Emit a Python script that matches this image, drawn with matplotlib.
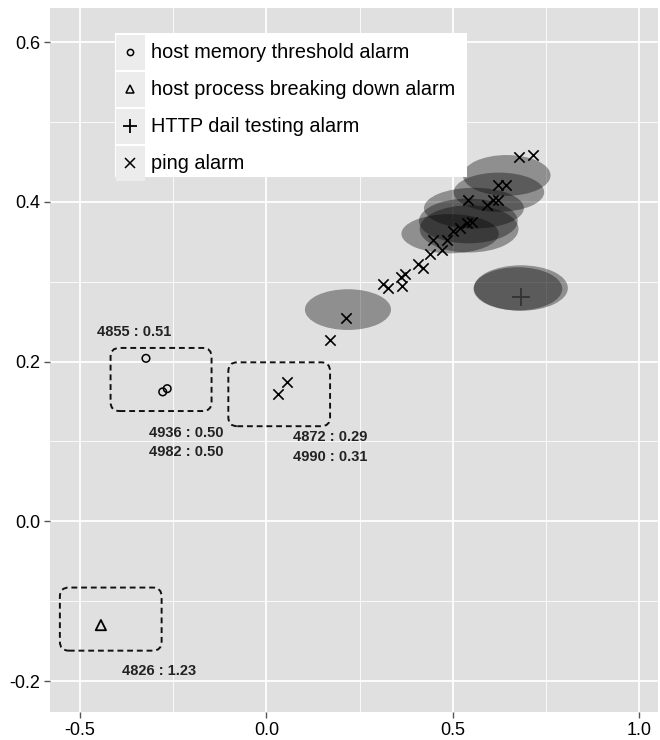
import matplotlib
matplotlib.use("Agg")
import matplotlib.pyplot as plt
from matplotlib.patches import Ellipse, FancyBboxPatch, Rectangle
from matplotlib.lines import Line2D

plt.rcParams["font.family"] = ["Liberation Sans", "DejaVu Sans"]

# ---------------- DATA ----------------
memory_x = [-0.323, -0.278, -0.266]
memory_y = [0.204, 0.162, 0.166]

process_x = [-0.444]
process_y = [-0.130]

http_x = [0.682]
http_y = [0.281]

ping_x = [0.213, 0.171, 0.030, 0.056, 0.314, 0.327, 0.363, 0.360, 0.372,
          0.408, 0.421, 0.439, 0.470, 0.448, 0.484, 0.502, 0.520, 0.538,
          0.551, 0.542, 0.591, 0.609, 0.622, 0.622, 0.643, 0.678, 0.715]
ping_y = [0.255, 0.227, 0.159, 0.174, 0.297, 0.292, 0.294, 0.306, 0.310,
          0.322, 0.317, 0.335, 0.340, 0.352, 0.352, 0.363, 0.367, 0.373,
          0.375, 0.402, 0.396, 0.402, 0.402, 0.421, 0.421, 0.456, 0.459]

# confidence regions: centre x, centre y, width, height
ell_x = [0.219, 0.683, 0.675, 0.645, 0.624, 0.557, 0.542, 0.493, 0.544]
ell_y = [0.265, 0.292, 0.291, 0.433, 0.412, 0.392, 0.376, 0.360, 0.366]
ell_w = [0.231, 0.252, 0.238, 0.235, 0.243, 0.268, 0.265, 0.261, 0.265]
ell_h = [0.051, 0.057, 0.054, 0.051, 0.049, 0.051, 0.056, 0.049, 0.059]

# outlier groups: x0, x1, y0, y1
box_x0 = [-0.418, -0.102, -0.554]
box_x1 = [-0.147, 0.171, -0.281]
box_y0 = [0.138, 0.119, -0.162]
box_y1 = [0.217, 0.199, -0.083]

score_text = ["4855 : 0.51", "4936 : 0.50", "4982 : 0.50",
              "4872 : 0.29", "4990 : 0.31", "4826 : 1.23"]
score_x = [-0.454, -0.315, -0.315, 0.072, 0.072, -0.388]
score_y = [0.237, 0.111, 0.087, 0.105, 0.080, -0.188]

legend_labels = ["host memory threshold alarm",
                 "host process breaking down alarm",
                 "HTTP dail testing alarm",
                 "ping alarm"]

x_ticks = [-0.5, 0.0, 0.5, 1.0]
y_ticks = [-0.2, 0.0, 0.2, 0.4, 0.6]

# ---------------- FIGURE ----------------
fig = plt.figure(figsize=(6.6, 7.4), dpi=100)
ax = fig.add_axes([50 / 660, 28 / 740, 608 / 660, 704 / 740])
ax.set_facecolor("#e0e0e0")
ax.set_xlim(-0.5805, 1.0509)
ax.set_ylim(-0.2388, 0.6426)

ax.set_xticks(x_ticks)
ax.set_xticklabels(["-0.5", "0.0", "0.5", "1.0"])
ax.set_yticks(y_ticks)
ax.set_yticklabels(["-0.2", "0.0", "0.2", "0.4", "0.6"])
ax.set_xticks([-0.25, 0.25, 0.75], minor=True)
ax.set_yticks([-0.1, 0.1, 0.3, 0.5], minor=True)
ax.grid(which="major", color="white", linewidth=1.3)
ax.grid(which="minor", color="white", linewidth=0.6)
ax.set_axisbelow(True)
ax.tick_params(which="major", length=4, width=1, color="#555555",
               labelsize=13, labelcolor="black", pad=3)
ax.tick_params(which="minor", length=0)
for side in ax.spines.values():
    side.set_visible(False)

for cx, cy, w, h in zip(ell_x, ell_y, ell_w, ell_h):
    ax.add_patch(Ellipse((cx, cy), w, h, facecolor="black", alpha=0.36,
                         edgecolor="none", zorder=2))

ax.scatter(memory_x, memory_y, marker="o", s=30, facecolors="none",
           edgecolors="black", linewidths=1.1, zorder=4)
ax.scatter(process_x, process_y, marker="^", s=55, facecolors="none",
           edgecolors="black", linewidths=1.3, zorder=4)
ax.scatter(http_x, http_y, marker="+", s=170, color="#333333",
           linewidths=1.3, zorder=4)
ax.scatter(ping_x, ping_y, marker="x", s=55, color="black",
           linewidths=1.2, zorder=4)

# dashed rounded frames round the outliers
for x0, x1, y0, y1 in zip(box_x0, box_x1, box_y0, box_y1):
    ax.add_patch(FancyBboxPatch((x0, y0), x1 - x0, y1 - y0,
                                boxstyle="round,pad=0,rounding_size=0.024",
                                mutation_aspect=0.47, facecolor="none",
                                edgecolor="#111111", linewidth=1.4,
                                linestyle=(0, (3, 2)), zorder=3))

for txt, tx, ty in zip(score_text, score_x, score_y):
    ax.text(tx, ty, txt, fontsize=10.5, fontweight="bold", color="#222222",
            ha="left", va="center", zorder=5)


# ---------------- LEGEND ----------------
def px(x, y):
    # pixel position on the panel -> axes fraction
    return (x - 50) / 608, (712 - y) / 704


lx0, ly0 = px(115, 177)
lx1, ly1 = px(467, 33)
ax.add_patch(Rectangle((lx0, ly0), lx1 - lx0, ly1 - ly0, transform=ax.transAxes,
                       facecolor="white", edgecolor="none", zorder=6))

legend_markers = [
    dict(marker="o", markersize=4.5, markerfacecolor="none", markeredgewidth=1.1),
    dict(marker="^", markersize=5.5, markerfacecolor="none", markeredgewidth=1.1),
    dict(marker="+", markersize=10, markeredgewidth=1.3),
    dict(marker="x", markersize=6.5, markeredgewidth=1.1),
]
for i, (label, style) in enumerate(zip(legend_labels, legend_markers)):
    top = 34 + i * 37
    kx0, ky0 = px(116, top + 36)
    kx1, ky1 = px(145, top + 1)
    ax.add_patch(Rectangle((kx0, ky0), kx1 - kx0, ky1 - ky0,
                           transform=ax.transAxes, facecolor="#ececec",
                           edgecolor="none", zorder=7))
    mx, my = px(130, top + 18.5)
    ax.add_line(Line2D([mx], [my], transform=ax.transAxes, color="black",
                       linestyle="none", zorder=8, **style))
    tx, ty = px(151, top + 18.5)
    ax.text(tx, ty, label, transform=ax.transAxes, fontsize=14.3,
            color="black", ha="left", va="center", zorder=8)

fig.savefig("out.png", dpi=100)
